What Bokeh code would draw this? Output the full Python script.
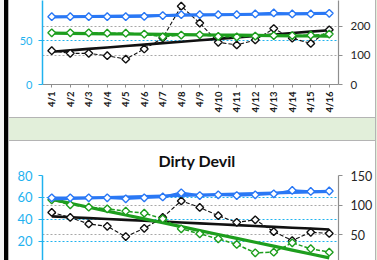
import math
import numpy as np
from bokeh.plotting import figure
from bokeh.layouts import column, row
from bokeh.models import Range1d, LinearAxis, FixedTicker, Grid, Div
from bokeh.embed import file_html
from bokeh.resources import INLINE

dates = ["4/1", "4/2", "4/3", "4/4", "4/5", "4/6", "4/7", "4/8",
         "4/9", "4/10", "4/11", "4/12", "4/13", "4/14", "4/15", "4/16"]

# upper chart (its title lies outside the visible crop)
top_blue = [77.7, 77.7, 77.7, 77.7, 77.7, 77.9, 78.9, 80.0,
            80.0, 80.0, 80.0, 80.8, 82.0, 80.8, 80.8, 81.5]
top_green = [59.2, 59.2, 59.2, 58.8, 58.8, 57.7, 54.6, 56.6,
             56.9, 55.0, 54.5, 55.5, 56.0, 56.0, 56.5, 57.7]
top_black = [116, 107, 107, 99, 87, 122, 160, 269,
             211, 145, 136, 153, 192, 159, 141, 188]  # secondary axis

# "Dirty Devil" chart
dd_blue = [59.7, 59.7, 59.7, 59.7, 58.8, 59.7, 60.5, 64.3,
           61.8, 62.4, 61.8, 62.4, 63.3, 66.4, 65.5, 65.9]
dd_green = [57.9, 53.4, 51.2, 49.7, 47.6, 45.7, 40.6, 31.5,
            27.0, 22.4, 17.3, 9.7, 10.3, 18.8, 13.4, 10.3]
dd_black = [87.5, 79, 68, 64, 46.6, 60.6, 79, 107,
            96, 82, 70.7, 75, 55, 40, 54, 52]  # secondary axis

top_left_ticks = [0, 50, 100]
top_right_ticks = [0, 100, 200, 300]
dd_left_ticks = [0, 20, 40, 60, 80]
dd_right_ticks = [0, 50, 100, 150]

BLUE = "#2a78f5"
GREEN = "#1e9e1e"
BLACK = "#111111"
SKY = "#1fb2ef"
GRID_GRAY = "#a8a8a8"
AXIS_GRAY = "#8e8e8e"
PANEL_LINE = "#b4b4b4"
BG_GREEN = "#e2efda"
FONT = "Lato"


def trend(vals):
    idx = np.arange(len(vals), dtype=float)
    k, b = np.polyfit(idx, np.asarray(vals, dtype=float), 1)
    return (k * idx + b).tolist()


def draw_series(p, vals, color, dash, line_w, trend_w, rname):
    p.line(dates, vals, line_color=color, line_width=line_w,
           line_dash=dash, y_range_name=rname)
    p.line(dates, trend(vals), line_color=color, line_width=trend_w,
           y_range_name=rname)
    p.scatter(dates, vals, marker="square", angle=math.pi / 4, size=5.5,
              fill_color="white", line_color=color, line_width=1.4,
              y_range_name=rname)


def style(p, left_ticks, right_ticks, lfont, rfont, rstand):
    p.outline_line_color = None
    p.background_fill_color = "white"
    p.border_fill_color = "white"
    p.xgrid.visible = False
    p.ygrid.ticker = FixedTicker(ticks=left_ticks)
    p.ygrid.grid_line_color = SKY
    p.ygrid.grid_line_dash = "2 2"
    p.ygrid.grid_line_width = 1
    g = Grid(dimension=1, ticker=FixedTicker(ticks=right_ticks),
             y_range_name="right", grid_line_color=GRID_GRAY,
             grid_line_dash="2 2", grid_line_width=1)
    p.add_layout(g)
    ax = p.yaxis[0]
    ax.ticker = FixedTicker(ticks=left_ticks)
    ax.axis_line_color = SKY
    ax.axis_line_width = 1.5
    ax.major_tick_line_color = SKY
    ax.major_tick_out = 4
    ax.major_tick_in = 0
    ax.minor_tick_line_color = None
    ax.major_label_text_color = SKY
    ax.major_label_text_font = FONT
    ax.major_label_text_font_size = lfont
    ax.major_label_standoff = 6
    ra = LinearAxis(y_range_name="right", ticker=FixedTicker(ticks=right_ticks))
    ra.axis_line_color = AXIS_GRAY
    ra.axis_line_width = 1.2
    ra.major_tick_line_color = AXIS_GRAY
    ra.major_tick_out = 4
    ra.major_tick_in = 0
    ra.minor_tick_line_color = None
    ra.major_label_text_color = "#262626"
    ra.major_label_text_font = FONT
    ra.major_label_text_font_size = rfont
    ra.major_label_standoff = rstand
    p.add_layout(ra, "right")


# ---- upper chart ----
top = figure(x_range=dates, y_range=Range1d(0, 96.2), width=366, height=117,
             output_backend="svg", toolbar_location=None, title=None,
             min_border_left=33, min_border_right=33, min_border_top=0,
             min_border_bottom=33)
top.extra_y_ranges = {"right": Range1d(0, 288.6)}
style(top, top_left_ticks, top_right_ticks, "11px", "11.5px", 8)
xa = top.xaxis[0]
xa.major_label_orientation = math.pi / 2
xa.axis_line_color = AXIS_GRAY
xa.major_tick_line_color = AXIS_GRAY
xa.major_tick_out = 3
xa.major_tick_in = 0
xa.major_label_text_font = FONT
xa.major_label_text_font_style = "bold"
xa.major_label_text_font_size = "9.5px"
xa.major_label_text_color = "#1a1a1a"
xa.major_label_standoff = 4
draw_series(top, top_black, BLACK, "4 2", 1.1, 2.6, "right")
draw_series(top, top_green, GREEN, "4 2", 1.5, 3.2, "default")
draw_series(top, top_blue, BLUE, "solid", 2.5, 3.0, "default")

# ---- Dirty Devil chart ----
bot = figure(x_range=dates, y_range=Range1d(2.7, 80), width=366, height=117,
             output_backend="svg", toolbar_location=None,
             x_axis_location=None, title="Dirty Devil",
             min_border_left=26, min_border_right=34, min_border_top=31,
             min_border_bottom=0)
bot.extra_y_ranges = {"right": Range1d(6.2, 150)}
bot.title.text_font = FONT
bot.title.text_font_size = "16px"
bot.title.text_font_style = "bold"
bot.title.text_color = "#111111"
bot.title.align = "left"
bot.title.offset = 116
bot.title.standoff = 11
style(bot, dd_left_ticks, dd_right_ticks, "13px", "12.5px", 8)
draw_series(bot, dd_black, BLACK, "4 2", 1.1, 2.6, "right")
draw_series(bot, dd_green, GREEN, "4 2", 1.5, 3.2, "default")
draw_series(bot, dd_blue, BLUE, "solid", 2.5, 3.0, "default")

gap = Div(text=('<div style="width:366px;height:24px;background:%s;'
                'border-top:1px solid %s;border-bottom:1px solid %s;"></div>'
                % (BG_GREEN, PANEL_LINE, PANEL_LINE)),
          width=366, height=26, margin=0)

left_strip = Div(text=('<div style="position:relative;width:9px;height:260px;background:#f4f4f4;">'
                       '<div style="position:absolute;left:4px;top:0;width:4px;height:260px;background:#000;"></div>'
                       '<div style="position:absolute;left:8px;top:0;width:1px;height:260px;background:%s;"></div>'
                       '</div>' % PANEL_LINE),
                 width=9, height=260, margin=0)
right_strip = Div(text=('<div style="position:relative;width:2px;height:260px;background:%s;">'
                        '<div style="position:absolute;left:0;top:0;width:1px;height:260px;background:%s;"></div>'
                        '</div>' % (BG_GREEN, PANEL_LINE)),
                  width=2, height=260, margin=0)

layout = row(left_strip, column(top, gap, bot, spacing=0, margin=0),
             right_strip, spacing=0, margin=0)

open("out.html", "w").write(file_html(layout, INLINE))
